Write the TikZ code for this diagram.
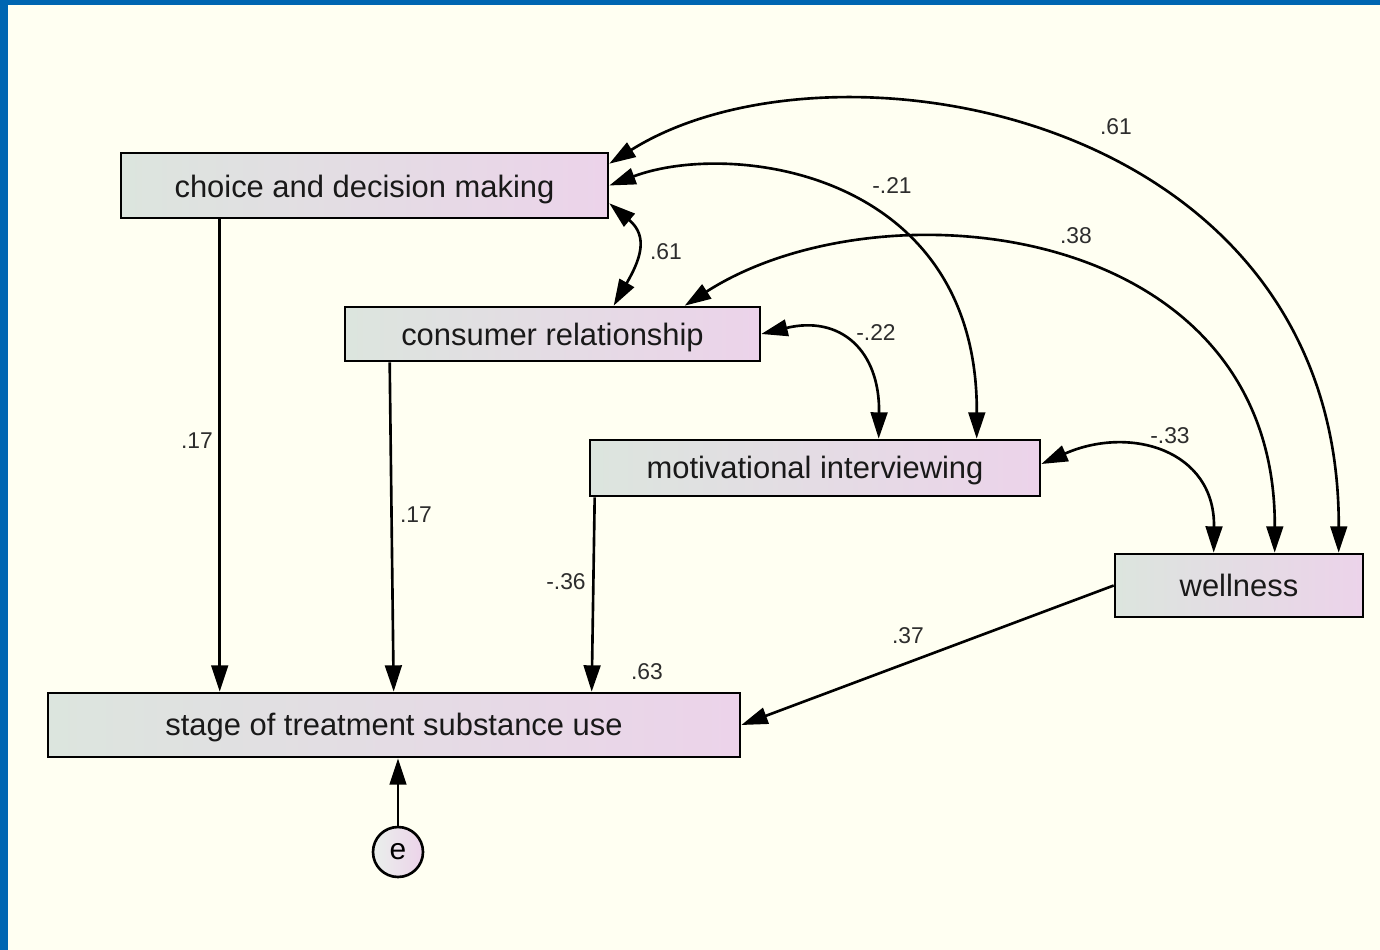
\documentclass[tikz,border=0pt]{standalone}
\usepackage{fontspec}
\setmainfont{Liberation Sans}
\usetikzlibrary{arrows.meta,calc}
\definecolor{bgcream}{RGB}{255,255,242}
\definecolor{frameblue}{RGB}{0,102,178}
\definecolor{boxleft}{RGB}{220,229,222}
\definecolor{boxright}{RGB}{236,211,234}
\definecolor{txt}{RGB}{25,25,25}
\definecolor{lbl}{RGB}{45,45,45}
\newcommand{\lowtxt}[2]{\raisebox{-#1}[\height][\depth]{#2}}
\tikzset{
  var/.style={draw=black,line width=1.5pt,left color=boxleft,right color=boxright,
    inner sep=0pt,text=txt,font=\fontsize{17.6}{20}\selectfont},
  errc/.style={circle,draw=black,line width=1.5pt,inner sep=0pt,minimum size=50*0.02cm,
    left color=boxleft!60!white,right color=boxright,font=\fontsize{17}{20}\selectfont},
  tipb/.tip={Triangle[length=15pt,width=9.5pt]},
  path/.style={line width=1.5pt,-tipb},
  cov/.style={line width=1.5pt,tipb-tipb},
  coef/.style={text=lbl,font=\fontsize{13}{15}\selectfont,inner sep=0pt}
}
\begin{document}
\begin{tikzpicture}[x=0.02cm,y=-0.02cm]
\useasboundingbox (0,0) rectangle (1380,950);
\fill[frameblue] (0,0) rectangle (1380,950);
\fill[bgcream] (8,5) rectangle (1380,950);

\node[var,minimum width=487*0.02cm,minimum height=65*0.02cm] (choice) at (364.5,185.5) {\lowtxt{2.3pt}{choice and decision making}};
\node[var,minimum width=415*0.02cm,minimum height=54*0.02cm] (cons) at (552.5,334) {\lowtxt{2pt}{consumer relationship}};
\node[var,minimum width=450*0.02cm,minimum height=56*0.02cm] (motiv) at (815,468) {\lowtxt{1.6pt}{motivational interviewing}};
\node[var,minimum width=248*0.02cm,minimum height=63*0.02cm] (well) at (1239,585.5) {wellness};
\node[var,minimum width=692*0.02cm,minimum height=64*0.02cm] (stage) at (394,725) {\lowtxt{1.6pt}{stage of treatment substance use}};
\node[errc] (e) at (398,852) {e};

% regression paths
\draw[path] ($(choice.south west)+(100,0)$) -- ($(stage.north west)+(173,0)$);
\draw[path] ($(cons.south west)+(46,0)$) -- ($(stage.north west)+(347,0)$);
\draw[path] ($(motiv.south west)+(6,0)$) -- ($(stage.north west)+(545,0)$);
\draw[path] (well.west) -- (stage.east);
\draw[path] (e.north) -- (e.north |- stage.south);

% covariances
\draw[cov] ($(choice.south east)+(0,-16)$) to[out=-40,in=60,looseness=1.3] ($(cons.north west)+(270,0)$);
\draw[cov] (choice.east) .. controls (730,140) and (978,170) .. ($(motiv.north west)+(388,0)$);
\draw[cov] ($(choice.north east)+(0,12)$) .. controls (830,25) and (1340,110) .. ($(well.north west)+(225,0)$);
\draw[cov] ($(cons.north west)+(341,0)$) .. controls (880,180) and (1276,220) .. ($(well.north west)+(161,0)$);
\draw[cov] (cons.east) .. controls (840,315) and (880,350) .. ($(motiv.north west)+(290,0)$);
\draw[cov] ($(motiv.east)+(0,-4)$) .. controls (1130,425) and (1215,450) .. ($(well.north west)+(100,0)$);

% coefficients
\node[coef] (l1) at (197,441) {.17};
\node[coef] (l2) at (416,515) {.17};
\node[coef] (l3) at (566,582) {-.36};
\node[coef] (l4) at (908,636) {.37};
\node[coef] (l5) at (647,672) {.63};
\node[coef] (l6) at (666,252) {.61};
\node[coef] (l7) at (892,186) {-.21};
\node[coef] (l8) at (1116,127) {.61};
\node[coef] (l9) at (1076,236) {.38};
\node[coef] (l10) at (876,333) {-.22};
\node[coef] (l11) at (1170,436) {-.33};
\end{tikzpicture}
\end{document}
